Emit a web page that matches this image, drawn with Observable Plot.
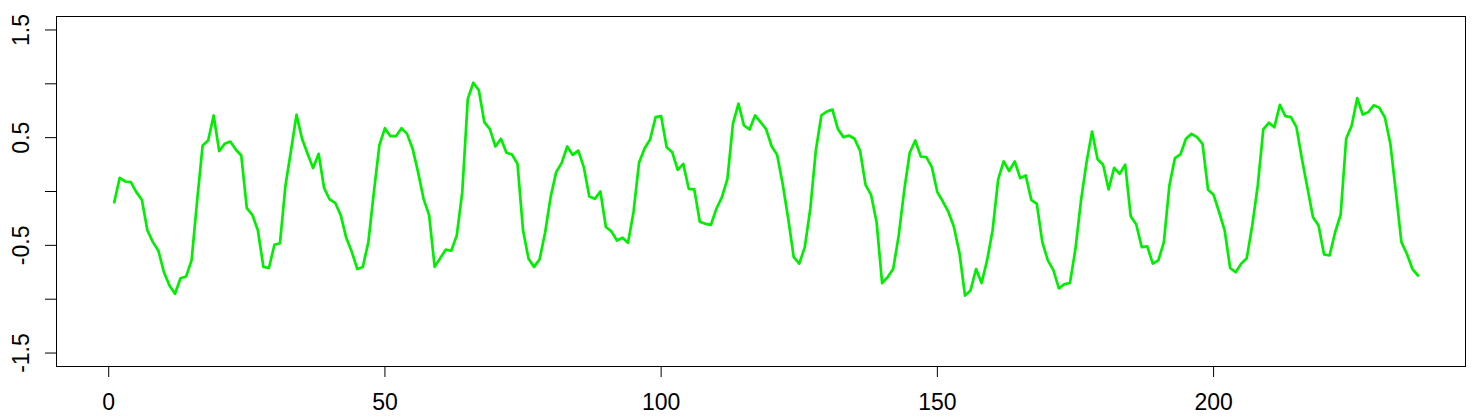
<!DOCTYPE html>
<html>
<head>
<meta charset="utf-8">
<script src="https://cdn.jsdelivr.net/npm/d3@7"></script>
<script src="https://cdn.jsdelivr.net/npm/@observablehq/plot@0.6"></script>
<style>
  html, body { margin: 0; padding: 0; background: white; }
</style>
</head>
<body>
<div id="chart"></div>
<script>
const values = [
  -0.10, 0.127, 0.093, 0.087, -0.006, -0.077, -0.36, -0.47, -0.55, -0.75,
  -0.873, -0.95, -0.805, -0.79, -0.64, -0.09, 0.427, 0.474, 0.706, 0.375,
  0.443, 0.464, 0.39, 0.334, -0.155, -0.216, -0.36, -0.70, -0.71, -0.495,
  -0.48, 0.056, 0.38, 0.712, 0.49, 0.35, 0.217, 0.35, 0.031, -0.074,
  -0.105, -0.22, -0.43, -0.56, -0.72, -0.70, -0.47, -0.006, 0.43, 0.588,
  0.514, 0.514, 0.588, 0.535, 0.40, 0.18, -0.068, -0.22, -0.70, -0.62,
  -0.54, -0.55, -0.41, -0.006, 0.86, 1.01, 0.94, 0.644, 0.58, 0.418,
  0.49, 0.36, 0.344, 0.257, -0.36, -0.625, -0.70, -0.63, -0.38, -0.05,
  0.18, 0.266, 0.418, 0.34, 0.38, 0.226, -0.046, -0.068, 0.0, -0.33,
  -0.37, -0.455, -0.43, -0.477, -0.19, 0.266, 0.40, 0.483, 0.69, 0.70,
  0.41, 0.365, 0.20, 0.257, 0.025, 0.019, -0.28, -0.30, -0.31, -0.16,
  -0.053, 0.118, 0.63, 0.815, 0.613, 0.576, 0.706, 0.644, 0.58, 0.42,
  0.34, 0.07, -0.25, -0.61, -0.67, -0.517, -0.16, 0.38, 0.706, 0.743,
  0.76, 0.58, 0.505, 0.52, 0.49, 0.38, 0.062, -0.031, -0.285, -0.85,
  -0.795, -0.72, -0.41, 0.01, 0.36, 0.474, 0.325, 0.319, 0.226, -0.006,
  -0.093, -0.19, -0.33, -0.57, -0.966, -0.92, -0.72, -0.85, -0.64, -0.36,
  0.11, 0.28, 0.19, 0.28, 0.124, 0.149, -0.077, -0.115, -0.47, -0.64,
  -0.73, -0.90, -0.86, -0.85, -0.53, -0.084, 0.27, 0.557, 0.30, 0.248,
  0.019, 0.22, 0.164, 0.25, -0.23, -0.306, -0.517, -0.51, -0.67, -0.64,
  -0.47, 0.056, 0.31, 0.344, 0.49, 0.535, 0.505, 0.443, 0.016, -0.031,
  -0.19, -0.36, -0.71, -0.75, -0.67, -0.62, -0.316, 0.056, 0.576, 0.638,
  0.597, 0.805, 0.70, 0.69, 0.597, 0.30, 0.03, -0.24, -0.316, -0.585,
  -0.594, -0.378, -0.216, 0.49, 0.613, 0.867, 0.715, 0.737, 0.80, 0.777,
  0.69, 0.443, -0.006, -0.47, -0.58, -0.72, -0.78
];

const xTicks = [0, 50, 100, 150, 200];
const xTickLabels = ["0", "50", "100", "150", "200"];
const yTicks = [-1.5, -1.0, -0.5, 0, 0.5, 1.0, 1.5];
const yTickLabels = ["-1.5", "", "-0.5", "", "0.5", "", "1.5"];

const data = values.map((v, i) => ({t: i + 1, v}));
const xLab = new Map(xTicks.map((d, i) => [d, xTickLabels[i]]));
const yLab = new Map(yTicks.map((d, i) => [d, yTickLabels[i]]));

const plot = Plot.plot({
  width: 1475,
  height: 420,
  marginLeft: 56,
  marginRight: 10,
  marginTop: 16,
  marginBottom: 54,
  x: {domain: [-9.45, 245.6], label: null},
  y: {domain: [-1.625, 1.625], label: null},
  style: {fontFamily: "'Liberation Sans', Arial, Helvetica, sans-serif", fontSize: "23px", background: "white", color: "black"},
  marks: [
    Plot.frame({stroke: "black", strokeWidth: 1}),
    Plot.axisX({ticks: xTicks, tickSize: 11, tickPadding: 16, tickFormat: d => xLab.get(d), label: null, fontSize: 23, stroke: "black"}),
    Plot.axisY({ticks: yTicks, tickSize: 11, tickPadding: 17, tickRotate: -90, tickFormat: d => yLab.get(d), label: null, fontSize: 23, stroke: "black"}),
    Plot.line(data, {x: "t", y: "v", stroke: "#00ee00", strokeWidth: 2.7, strokeLinejoin: "round"})
  ]
});
document.getElementById("chart").appendChild(plot);
</script>
</body>
</html>
